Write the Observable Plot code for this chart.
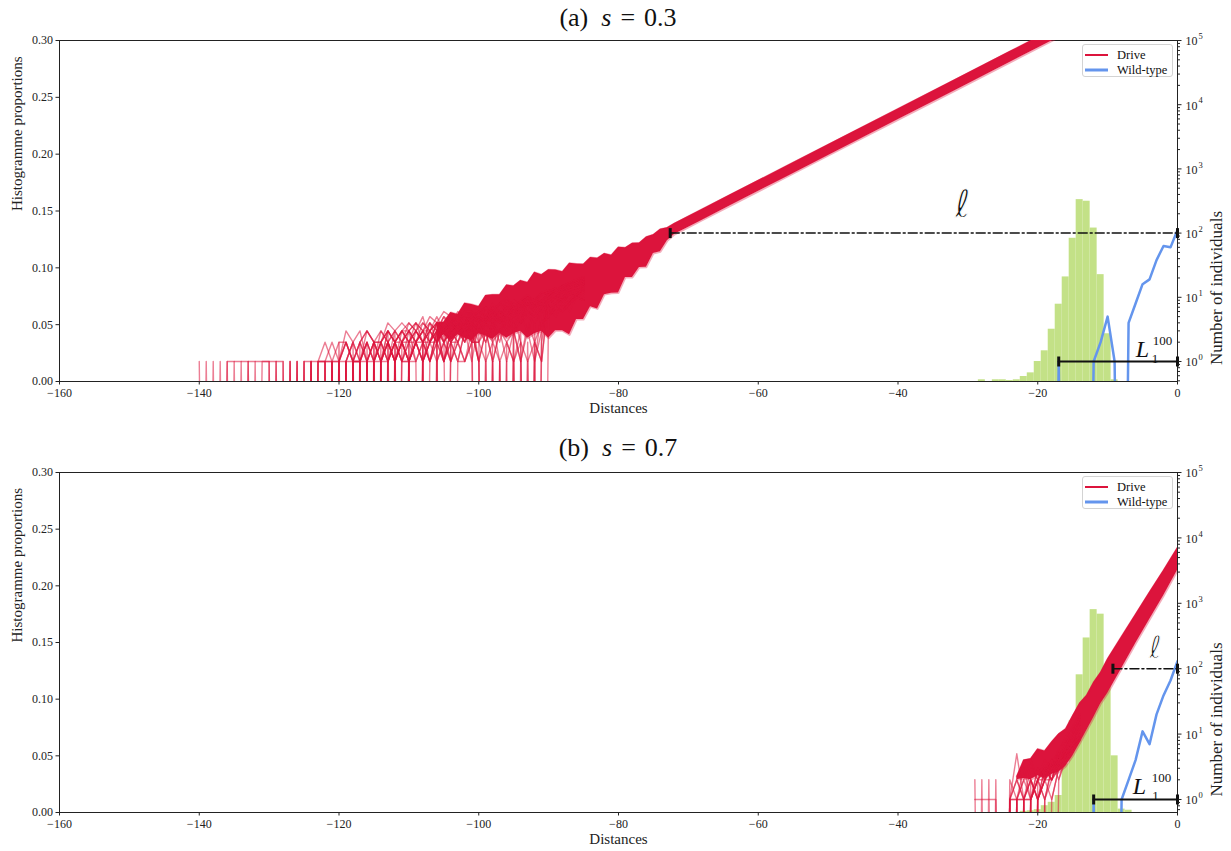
<!DOCTYPE html>
<html><head><meta charset="utf-8">
<script src="https://cdn.jsdelivr.net/npm/d3@7"></script>
<script src="https://cdn.jsdelivr.net/npm/@observablehq/plot@0.6"></script>
<style>
body{margin:0;background:#fff;}
#wrap{position:relative;width:1231px;height:851px;font-family:"Liberation Serif","Times New Roman",serif;color:#111;overflow:hidden;}
.panel{position:absolute;left:0;width:1231px;}
.title{position:absolute;left:59px;width:1118px;text-align:center;font-size:26px;line-height:30px;}
.title i{font-style:italic;}
.legend{position:absolute;left:1082px;width:89px;height:31px;border:1px solid #d3d3d3;border-radius:3px;background:rgba(255,255,255,.85);font-size:12.5px;}
.legend .sw{position:absolute;left:2px;width:23px;}
.legend .lb{position:absolute;left:34px;line-height:14px;}
</style></head>
<body><div id="wrap"></div>
<script>
// ---------- data ----------
const xTicks = [-160, -140, -120, -100, -80, -60, -40, -20, 0];
const propTicks = [0, 0.05, 0.10, 0.15, 0.20, 0.25, 0.30];
const countTicks = [1, 10, 100, 1000, 10000, 100000];

// (a) s = 0.3
const histXA = [-28, -26, -25, -24, -23, -22, -21, -20, -19, -18, -17, -16, -15, -14, -13, -12, -11, -10, -9];
const histPA = [0.0015, 0.0015, 0.0015, 0.0008, 0.0015, 0.0044, 0.0076, 0.0176, 0.027, 0.046, 0.068, 0.092, 0.126, 0.160, 0.1586, 0.135, 0.094, 0.042, 0.0015];
const wildXA = [-18, -17, -16, -15, -14, -13, -12, -11, -10, -9, -8, -7, -6, -5, -4, -3, -2, -1, 0];
const wildA  = [0, 1, 0, 0, 0, 0, 1, 2, 5, 1, 0, 4, 8, 16, 19, 38, 63, 60, 112];
// Drive: dense core of the runs (lower / upper envelope), then individual runs in the sparse tail
const bandXA  = [-106, -105, -104, -103, -102, -101, -100, -99, -98, -97, -96, -95, -94, -93, -92, -91, -90, -89, -88, -87, -86, -85, -84, -83, -82, -81, -80, -79, -78, -77, -76, -75, -74, -73, -72, -68, -64, -56, -48, -40, -32, -24, -16, -8, 0];
const bandLoA = [2.0, 2.6, 2.1, 2.6, 2.3, 2.1, 2.7, 2.5, 2.2, 2.75, 2.3, 2.7, 2.95, 2.3, 2.7, 2.95, 2.3, 3.0, 3.0, 2.6, 4.5, 4.5, 7.1, 6.6, 11.0, 11.6, 11.7, 20.4, 20.4, 29.2, 29.5, 47.9, 51.3, 75.9, 95, 159, 266, 743, 2080, 5810, 16200, 45400, 127000, 355000, 991000];
const bandHiA = [4.0, 4.1, 5.8, 5.4, 8.1, 7.7, 7.2, 10.7, 11.0, 11.0, 15.5, 15.0, 18.2, 17.0, 24.5, 22.4, 26.9, 26.6, 25.1, 33.9, 33.1, 32.7, 41.7, 40.7, 47.9, 45.2, 60.3, 58.9, 69.2, 70.0, 87.1, 94.4, 114.8, 121.6, 141, 236, 394, 1100, 3076, 8590, 24000, 67100, 187500, 525000, 1466000];
const tailStartA = -140;   // one character per distance step, base-36 counts
const tailRunsA = [
  "1010010010" + "0100101001" + "0120101020" + "1021230112" + "3041052016" + "6879bd",
  "0001000101" + "1001001010" + "1101201212" + "1320213242" + "2435364657" + "7898bc",
  "0000100100" + "0101010110" + "2011021302" + "1221302233" + "1010213040" + "8a9bcf",
  "0000111111" + "1110100111" + "0102320121" + "2012232324" + "3545347687" + "9a8cdg",
  "0000000000" + "1001011001" + "1211012130" + "2231313425" + "0101010102" + "9bacfh",
  "0000000000" + "0000100101" + "1012102321" + "3124232342" + "5364575869" + "a9cbeg",
  "0000000000" + "0000001011" + "0121210213" + "2323423435" + "3456474889" + "bacdgi",
  "0000000000" + "0000000001" + "0110121232" + "1232413244" + "5465758a79" + "bcdfhj",
  "0000000000" + "0000000000" + "0101101212" + "3212323453" + "1010101021" + "cbegik",
  "0000000000" + "0000000000" + "0001011210" + "1233232445" + "5476587a9b" + "cdfhjl",
  "0000000000" + "0000000000" + "0000010121" + "1022331324" + "2121212121" + "acbdeg",
  "0000000000" + "0000000000" + "0000000101" + "1213202335" + "1313131313" + "dcfgik",
  "0100001000" + "0010001121" + "2212322323" + "4352435465" + "6574869798" + "bdcegi",
  "0000000000" + "0000010112" + "1323122434" + "3435465346" + "7586978a9b" + "cedgfh",
  "0000000000" + "0000000000" + "1011212323" + "2434354656" + "4768798a9c" + "bdfehj",
  "0000000000" + "0000000000" + "0010112123" + "3243534566" + "5768a79b8c" + "dcfhgi",
  "0000000000" + "0000000000" + "0000101122" + "2323434555" + "6758697a8b" + "cedfhg",
  "0000000000" + "0000000000" + "0000001012" + "1212323434" + "3243545657" + "98acbd",
  "0000000000" + "0000000000" + "0000000010" + "1101212132" + "2323434546" + "7698ba",
  "0000000000" + "0000000000" + "0000000000" + "1010121212" + "0201030204" + "5768a9",
  "0000000000" + "0000000000" + "0121323212" + "3424353545" + "4565767898" + "abcdef",
  "0000000000" + "0000000000" + "1212121323" + "2323434344" + "5454656576" + "98a9cb",
  "0000000000" + "0000000000" + "0000121212" + "3232424353" + "4546576878" + "9a9bdc",
  "0000000000" + "0000000010" + "1211213232" + "4343243534" + "3646575969" + "8a9cbe",
  "0000000000" + "0000000000" + "0000012121" + "2121312131" + "4242535364" + "7586a9",
  "0000000000" + "0000000000" + "0010101012" + "1212121213" + "1313231424" + "5768a9"
];
const ellFromA = -72.6, lFromA = -17;

// (b) s = 0.7
const histXB = [-22, -21, -20, -19, -18, -17, -16, -15, -14, -13, -12, -11, -10, -9, -8, -7];
const histPB = [0.001, 0.0015, 0.0025, 0.006, 0.009, 0.015, 0.043, 0.081, 0.1215, 0.154, 0.179, 0.175, 0.115, 0.050, 0.003, 0.002];
const wildXB = [-13, -12, -11, -10, -9, -8, -7, -6, -5, -4, -3, -2, -1, 0];
const wildB  = [0, 1, 0, 0, 0, 1, 2, 4, 11, 7, 20, 39, 66, 130];
const bandXB  = [-23, -22, -21, -20, -19, -18, -17, -16, -15, -14, -13, -12, -11, -10, -8, -6, -4, -2, 0];
const bandLoB = [2.0, 2.1, 2.0, 2.3, 2.1, 2.4, 2.6, 3.2, 4.6, 7.1, 11.2, 17.8, 28.8, 41.7, 100, 240, 562, 1290, 3160];
const bandHiB = [2.24, 4.0, 4.2, 5.9, 5.5, 7.6, 10, 12, 19, 29.5, 38.9, 61.7, 87.1, 141, 309, 676, 1480, 3160, 7080];
const tailStartB = -29;
const tailRunsB = [
  "202001010123469c",
  "020200102132548e",
  "11110111121347ag",
  "000001210232569f",
  "00000151212437bh",
  "00000112423368cj",
  "00000010132456ai",
  "00000001324359dk",
  "000000001213459e",
  "000000000122368b",
  "000000101232457a",
  "0000000010102468",
  "000000000101357b",
  "0000000000123469",
  "0000001112233568",
  "000000012123456a",
  "0000012121324579",
  "0000021212343568",
  "0000010101213468",
  "0000001313242579"
];
const ellFromB = -9.24, lFromB = -12;

const ellLevel = 100, lLevel = 1, frontX = 0;

// ---------- drawing ----------
const FONT = "Liberation Serif, Times New Roman, serif";
const RED = "#dc143c", BLUE = "#6495ed", GREEN = "#c3e187";
const FLOOR = 1e-9;
const W = 1231, ML = 59, MR = 54;
const fmtX = d => d < 0 ? "\u2212" + (-d) : String(d);
const vbar = {draw(ctx, size) { const r = Math.sqrt(size / Math.PI); ctx.moveTo(0, -r); ctx.lineTo(0, r); }};

const panels = [
  {label: "(a)", s: "0.3", top: 0, height: 425, mt: 40, mb: 44, logMin: Math.pow(10, -0.3115), edgeFrom: -106,
   histX: histXA, histP: histPA, wildX: wildXA, wild: wildA, bandX: bandXA, bandLo: bandLoA, bandHi: bandHiA,
   tailStart: tailStartA, tailRuns: tailRunsA, ellFrom: ellFromA, lFrom: lFromA,
   ell: {dx: -215, dy: -28, size: 38}, L: {dx: -35, dy: -12, sdx: -15, sdy: -21, bdx: -22.5, bdy: -3},
   titleTop: 3, legendTop: 44},
  {label: "(b)", s: "0.7", top: 425, height: 426, mt: 47, mb: 39, logMin: Math.pow(10, -0.199), edgeFrom: -23,
   histX: histXB, histP: histPB, wildX: wildXB, wild: wildB, bandX: bandXB, bandLo: bandLoB, bandHi: bandHiB,
   tailStart: tailStartB, tailRuns: tailRunsB, ellFrom: ellFromB, lFrom: lFromB,
   ell: {dx: -22, dy: -21, size: 31}, L: {dx: -38, dy: -13, sdx: -16, sdy: -22, bdx: -22, bdy: -4},
   titleTop: 8, legendTop: 51}
];

const wrap = document.getElementById("wrap");

for (const p of panels) {
  const div = document.createElement("div");
  div.className = "panel";
  div.style.top = p.top + "px";
  div.style.height = p.height + "px";
  wrap.appendChild(div);

  const hist = p.histX.map((x, i) => ({x1: x - 0.5, x2: x + 0.5, p: p.histP[i]}));
  const common = {width: W, height: p.height, marginTop: p.mt, marginBottom: p.mb, marginLeft: ML, marginRight: MR,
    style: {fontFamily: FONT, fontSize: "12px", color: "#222", background: "transparent", overflow: "visible"}};

  const lin = Plot.plot({
    ...common,
    x: {domain: [-160, 0], axis: null},
    y: {domain: [0, 0.3], axis: null},
    marks: [
      Plot.rectY(hist, {x1: "x1", x2: "x2", y: "p", fill: GREEN}),
      Plot.axisX({ticks: xTicks, tickSize: 3.5, tickPadding: 3, tickFormat: fmtX, label: null, fontSize: 12}),
      Plot.axisY({ticks: propTicks, tickSize: 3.5, tickPadding: 3, tickFormat: d => d.toFixed(2), label: null, fontSize: 12}),
      Plot.frame({stroke: "#222"}),
      Plot.text(["Distances"], {frameAnchor: "bottom", dy: 31, fontSize: 15}),
      Plot.text(["Histogramme proportions"], {frameAnchor: "left", dx: -42, rotate: -90, fontSize: 15})
    ]
  });

  const band = p.bandX.map((x, i) => ({x, lo: p.bandLo[i], hi: p.bandHi[i]}));
  const bandEdge = band.filter(d => d.x >= p.edgeFrom);
  const tail = p.tailRuns.flatMap((s, r) => [...s].map((c, i) => ({run: r, x: p.tailStart + i, n: parseInt(c, 36)})));
  const wild = p.wildX.map((x, i) => ({x, n: p.wild[i]}));
  const ellSeg = [{x: p.ellFrom, y: ellLevel}, {x: frontX, y: ellLevel}];
  const lSeg = [{x: p.lFrom, y: lLevel}, {x: frontX, y: lLevel}];
  const lo = Math.floor(Math.log10(p.logMin));
  const minor = [];
  for (let k = lo; k < 5; k++) for (let m = 2; m < 10; m++) { const v = m * Math.pow(10, k); if (v >= p.logMin && v <= 1e5) minor.push(v); }
  const yv = d => d.n > 0 ? d.n : FLOOR;

  const lg = Plot.plot({
    ...common,
    x: {domain: [-160, 0], axis: null},
    y: {type: "log", domain: [p.logMin, 1e5], axis: null},
    marks: [
      Plot.areaY(band, {x: "x", y1: "lo", y2: "hi", fill: RED, clip: true}),
      Plot.line(bandEdge, {x: "x", y: "hi", stroke: RED, strokeOpacity: 0.35, strokeWidth: 2, clip: true}),
      Plot.line(bandEdge, {x: "x", y: "lo", stroke: RED, strokeOpacity: 0.35, strokeWidth: 2, clip: true}),
      Plot.line(tail, {x: "x", y: yv, z: "run", stroke: RED, strokeOpacity: 0.55, strokeWidth: 1.4, clip: true}),
      Plot.line(wild, {x: "x", y: yv, stroke: BLUE, strokeWidth: 2.5, clip: true}),
      Plot.line(ellSeg, {x: "x", y: "y", stroke: "#111", strokeWidth: 1.5, strokeDasharray: "9,3,2,3"}),
      Plot.dot(ellSeg, {x: "x", y: "y", symbol: vbar, r: 5, fill: "none", stroke: "#111", strokeWidth: 3}),
      Plot.line(lSeg, {x: "x", y: "y", stroke: "#111", strokeWidth: 2}),
      Plot.dot(lSeg, {x: "x", y: "y", symbol: vbar, r: 5, fill: "none", stroke: "#111", strokeWidth: 3}),
      Plot.text([ellSeg[1]], {x: "x", y: "y", text: () => "\u2113", dx: p.ell.dx, dy: p.ell.dy, fontSize: p.ell.size, fontFamily: "DejaVu Sans", fontStyle: "italic", fill: "#111", stroke: "white", strokeWidth: 1.1, paintOrder: "normal"}),
      Plot.text([lSeg[1]], {x: "x", y: "y", text: () => "L", dx: p.L.dx, dy: p.L.dy, fontSize: 24, fontStyle: "italic", fill: "#111"}),
      Plot.text([lSeg[1]], {x: "x", y: "y", text: () => "100", dx: p.L.sdx, dy: p.L.sdy, fontSize: 13, fill: "#111"}),
      Plot.text([lSeg[1]], {x: "x", y: "y", text: () => "1", dx: p.L.bdx, dy: p.L.bdy, fontSize: 13, fill: "#111"}),
      Plot.axisY({anchor: "right", ticks: countTicks, tickSize: 3.5, tickFormat: () => "", label: null}),
      Plot.axisY({anchor: "right", ticks: minor, tickSize: 2, tickFormat: () => "", label: null}),
      Plot.text(countTicks, {frameAnchor: "right", y: d => d, text: () => "10", dx: 8, dy: 1, textAnchor: "start", fontSize: 12, fill: "#222"}),
      Plot.text(countTicks, {frameAnchor: "right", y: d => d, text: d => String(Math.round(Math.log10(d))), dx: 21, dy: -4, textAnchor: "start", fontSize: 8.5, fill: "#222"}),
      Plot.text(["Number of individuals"], {frameAnchor: "right", dx: 39, rotate: -90, fontSize: 17})
    ]
  });

  for (const svg of [lin, lg]) {
    svg.style.position = "absolute";
    svg.style.left = "0px";
    svg.style.top = "0px";
    div.appendChild(svg);
  }

  const t = document.createElement("div");
  t.className = "title";
  t.style.top = p.titleTop + "px";
  t.innerHTML = p.label + '<span style="margin-left:13px"><i>s</i></span><span style="margin:0 9px">=</span>' + p.s;
  div.appendChild(t);

  const leg = document.createElement("div");
  leg.className = "legend";
  leg.style.top = p.legendTop + "px";
  leg.innerHTML =
    '<svg class="sw" style="top:8px" height="4"><line x1="0" x2="23" y1="2" y2="2" stroke="' + RED + '" stroke-width="2"/></svg>' +
    '<span class="lb" style="top:3px">Drive</span>' +
    '<svg class="sw" style="top:23px" height="4"><line x1="0" x2="23" y1="2" y2="2" stroke="' + BLUE + '" stroke-width="3"/></svg>' +
    '<span class="lb" style="top:18px">Wild-type</span>';
  div.appendChild(leg);
}
</script></body></html>
